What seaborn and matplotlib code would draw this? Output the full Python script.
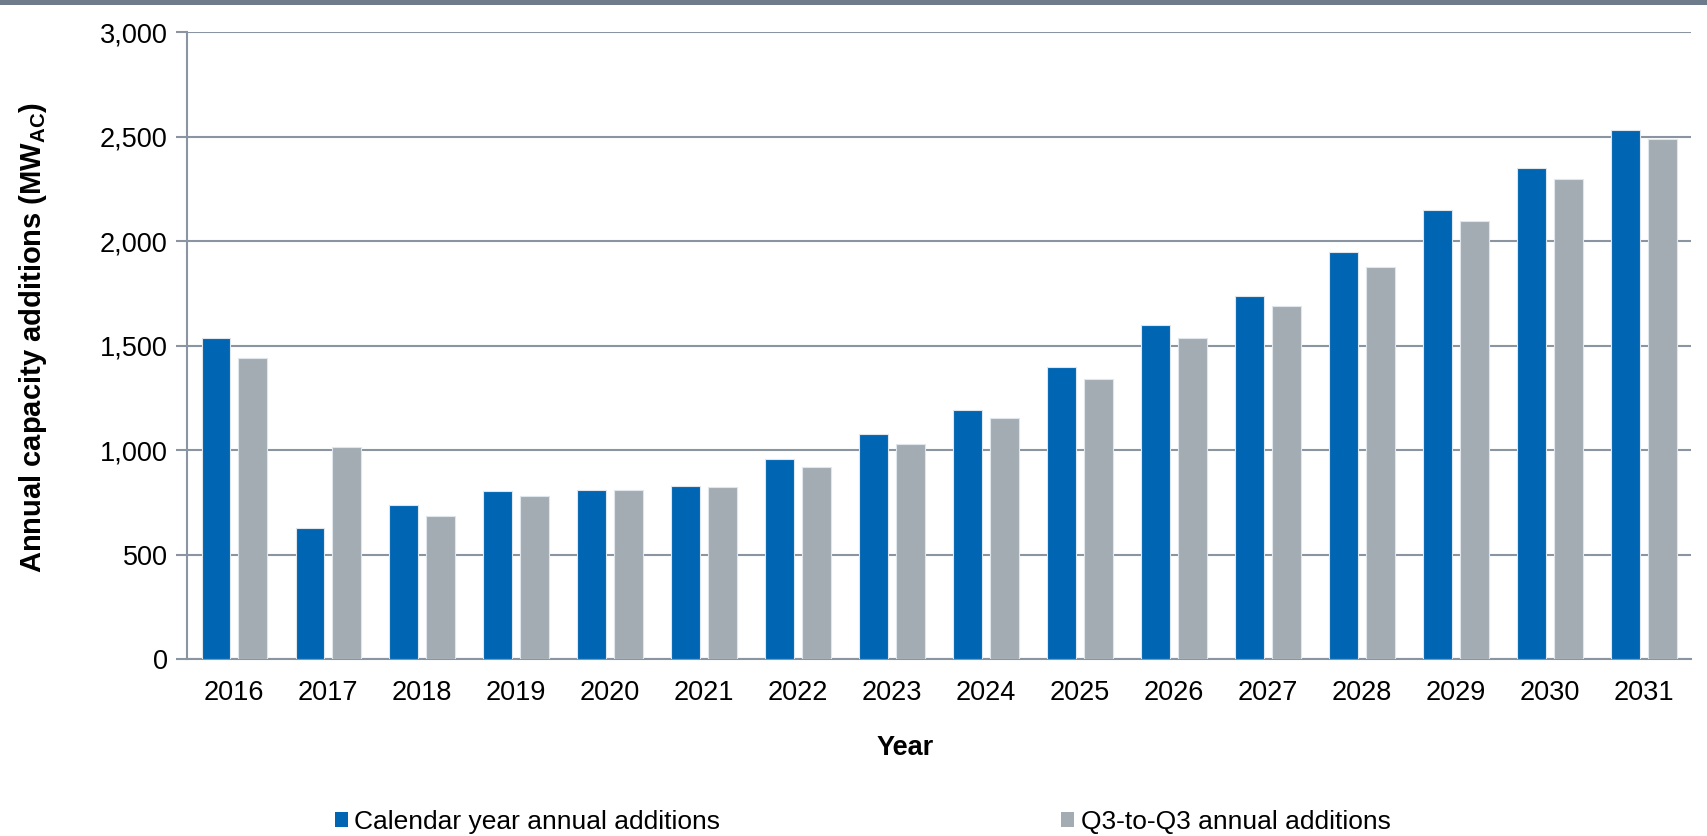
import matplotlib
matplotlib.use("Agg")
import matplotlib.pyplot as plt
import matplotlib.patches as mpatches
import seaborn as sns
import pandas as pd
import numpy as np

years = ["2016", "2017", "2018", "2019", "2020", "2021", "2022", "2023",
         "2024", "2025", "2026", "2027", "2028", "2029", "2030", "2031"]
calendar_year = [1537, 625, 735, 805, 810, 826, 957, 1075,
                 1191, 1399, 1598, 1737, 1946, 2148, 2348, 2530]
q3_to_q3 = [1439, 1016, 686, 778, 809, 823, 919, 1029,
            1153, 1338, 1534, 1689, 1876, 2096, 2298, 2490]
series_names = ["Calendar year annual additions", "Q3-to-Q3 annual additions"]
yticks = [0, 500, 1000, 1500, 2000, 2500, 3000]

BLUE = "#0066B3"
GRAY = "#A3ACB2"
AXC = "#8A95A1"
FS = 19.5

sns.set_theme(style="white")
plt.rcParams["font.family"] = ["Liberation Sans", "DejaVu Sans"]
plt.rcParams["mathtext.fontset"] = "custom"
plt.rcParams["mathtext.rm"] = "Liberation Sans"
plt.rcParams["mathtext.bf"] = "Liberation Sans:bold"
plt.rcParams["text.color"] = "black"
plt.rcParams["axes.labelcolor"] = "black"

df = pd.DataFrame({
    "Year": years * 2,
    "Value": calendar_year + q3_to_q3,
    "Series": [series_names[0]] * len(years) + [series_names[1]] * len(years),
})

fig = plt.figure(figsize=(17.07, 8.36), dpi=100)
ax = fig.add_axes([0.1096, 0.2117, 0.881, 0.750])

sns.barplot(data=df, x="Year", y="Value", hue="Series", order=years,
            hue_order=series_names, palette=[BLUE, GRAY], saturation=1,
            width=0.77, gap=0.2, edgecolor="#dfe6ec", linewidth=0.8,
            ax=ax, legend=False, zorder=3)

ax.set_xlim(-0.5, len(years) - 0.5)
ax.set_ylim(0, 3000)
ax.set_yticks(yticks)
ax.set_yticklabels([f"{v:,}" for v in yticks], fontsize=FS)
ax.yaxis.grid(True, color=AXC, linewidth=1.5, zorder=0)
ax.set_axisbelow(True)

ax.set_xticks(range(len(years)))
ax.set_xticklabels(years, fontsize=FS)
ax.set_xticks(np.arange(-0.5, len(years), 1.0), minor=True)
ax.tick_params(axis="x", which="major", length=0, pad=15, labelcolor="black")
ax.tick_params(axis="x", which="minor", length=7, width=1.5, color=AXC, direction="out")
ax.tick_params(axis="y", length=8, width=1.5, color=AXC, direction="out", pad=6,
               left=True, labelcolor="black")

for s in ["top", "right"]:
    ax.spines[s].set_visible(False)
for s in ["left", "bottom"]:
    ax.spines[s].set_color(AXC)
    ax.spines[s].set_linewidth(1.5)

ax.set_xlabel("Year", fontsize=FS, fontweight="bold")
ax.xaxis.set_label_coords(0.4775, -0.121)
ax.set_ylabel(r"Annual capacity additions (MW$_{\mathbf{AC}}$)", fontsize=21,
              fontweight="bold")
ax.yaxis.set_label_coords(-0.092, 0.513)

handles = [mpatches.Patch(facecolor=BLUE, edgecolor="none"),
           mpatches.Patch(facecolor=GRAY, edgecolor="none")]
fig.legend(handles, series_names, loc="center left", ncol=2,
           bbox_to_anchor=(0.196, 0.0167), frameon=False, fontsize=19,
           handlelength=0.5, handleheight=0.5, handletextpad=0.25,
           columnspacing=12.9, borderpad=0, borderaxespad=0)

fig.add_artist(mpatches.Rectangle((0, 1 - 5 / 836), 1, 5 / 836, transform=fig.transFigure,
                                  facecolor="#6E7B8B", edgecolor="none"))

fig.savefig("out.png", dpi=100)
